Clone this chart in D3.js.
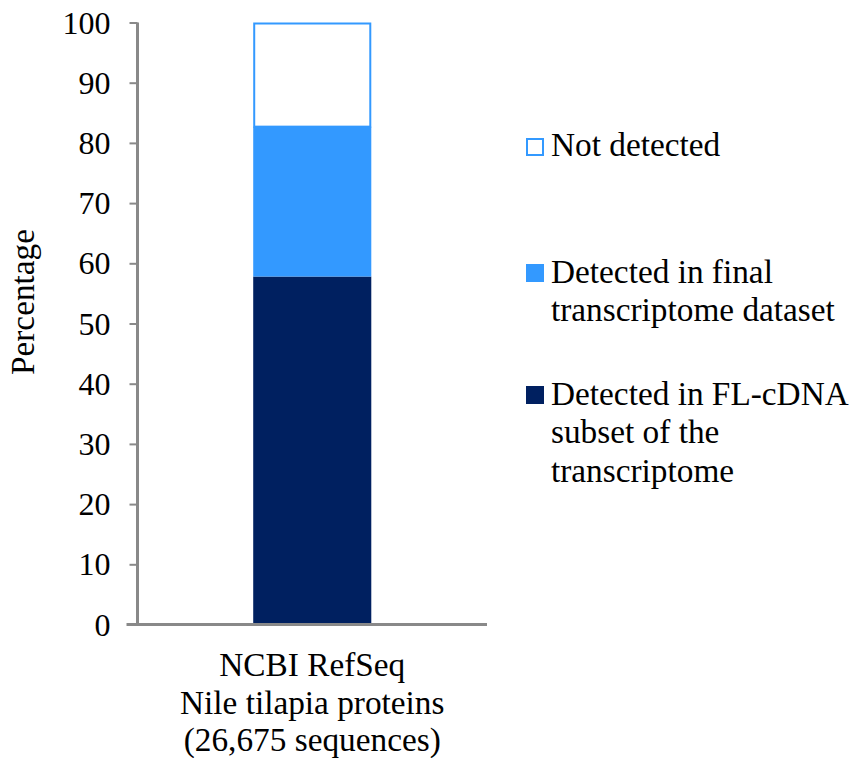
<!DOCTYPE html>
<html>
<head>
<meta charset="utf-8">
<script src="https://cdn.jsdelivr.net/npm/d3@7"></script>
<style>
  html, body { margin: 0; padding: 0; background: #fff; }
  svg text { font-family: "Liberation Serif", Tinos, "Times New Roman", Times, "DejaVu Serif", serif !important; fill: #000; }
</style>
</head>
<body>
<svg id="chart" width="850" height="758"></svg>
<script>
// Coverage of NCBI RefSeq Nile tilapia proteins
const categories = ["NCBI RefSeq|Nile tilapia proteins|(26,675 sequences)"];
const seriesNames = ["fl", "final", "none"];
const seriesLabels = [
  ["Detected in FL-cDNA", "subset of the", "transcriptome"],
  ["Detected in final", "transcriptome dataset"],
  ["Not detected"]
];
const flValues = [57.8];
const finalValues = [24.9];
const noneValues = [17.3];
const yTicks = [0, 10, 20, 30, 40, 50, 60, 70, 80, 90, 100];
const fills = { fl: "#002060", final: "#3399FF", none: "#FFFFFF" };
const serif = "'Liberation Serif', Tinos, 'Times New Roman', Times, 'DejaVu Serif', serif";

const rows = categories.map((c, i) => ({
  cat: c, fl: flValues[i], final: finalValues[i], none: noneValues[i]
}));

const svg = d3.select("#chart");
const m = { left: 137.5, right: 487, top: 22.5, bottom: 624.5 };
const tickFont = 32;
const fontSize = 33.3;

const x = d3.scaleBand().domain(categories).range([m.left, m.right])
  .paddingInner(0.5).paddingOuter(0.49);
const y = d3.scaleLinear().domain([0, 100]).range([m.bottom, m.top]);

const stack = d3.stack().keys(seriesNames)(rows);

// bars
const g = svg.append("g");
stack.forEach(layer => {
  const outlined = layer.key === "none";
  g.selectAll(null).data(layer).enter().append("rect")
    .attr("x", d => x(d.data.cat) + (outlined ? 1 : 0))
    .attr("width", x.bandwidth() - (outlined ? 2 : 0))
    .attr("y", d => y(d[1]) + (outlined ? 1 : 0))
    .attr("height", d => y(d[0]) - y(d[1]) - (outlined ? 1 : 0))
    .attr("fill", fills[layer.key])
    .attr("stroke", outlined ? "#3399FF" : "none")
    .attr("stroke-width", 2);
});

// y axis
const yAxis = d3.axisLeft(y).tickValues(yTicks).tickSize(8).tickPadding(19);
const ya = svg.append("g").attr("transform", `translate(${m.left},0)`).call(yAxis)
  .attr("font-family", serif);
ya.select(".domain").attr("stroke", "#898989").attr("stroke-width", 3)
  .attr("d", `M0,${m.top}V${m.bottom}`);
ya.selectAll(".tick line").attr("stroke", "#898989").attr("stroke-width", 2);
ya.selectAll(".tick text").attr("font-size", tickFont)
  .style("font-family", serif).attr("fill", "#000").attr("dy", "0.33em");

// x axis baseline
const xAxis = d3.axisBottom(x).tickSize(0).tickFormat("");
const xa = svg.append("g").attr("transform", `translate(0,${m.bottom})`).call(xAxis);
xa.select(".domain").attr("stroke", "#898989").attr("stroke-width", 3)
  .attr("d", `M${m.left - 11},0H${m.right}`);

// category label
categories.forEach(c => {
  const t = svg.append("text").attr("text-anchor", "middle")
    .attr("font-size", fontSize).style("font-family", serif);
  c.split("|").forEach((line, i) => {
    t.append("tspan").attr("x", x(c) + x.bandwidth() / 2).attr("y", 676 + i * 37.5).text(line);
  });
});

// y axis title
svg.append("text")
  .attr("transform", "translate(34,302) rotate(-90)")
  .attr("text-anchor", "middle").attr("font-size", fontSize)
  .style("font-family", serif)
  .text("Percentage");

// legend, top to bottom
const legendItems = [
  { key: "none", lines: seriesLabels[2], y0: 156 },
  { key: "final", lines: seriesLabels[1], y0: 283 },
  { key: "fl", lines: seriesLabels[0], y0: 405 }
];
legendItems.forEach(it => {
  const isNone = it.key === "none";
  svg.append("rect")
    .attr("x", isNone ? 527 : 526).attr("y", it.y0 - (isNone ? 17 : 19))
    .attr("width", isNone ? 16 : 18).attr("height", isNone ? 16 : 18)
    .attr("fill", fills[it.key])
    .attr("stroke", isNone ? "#3399FF" : "none").attr("stroke-width", 2);
  const t = svg.append("text").attr("font-size", fontSize).style("font-family", serif);
  it.lines.forEach((line, i) => {
    t.append("tspan").attr("x", 551).attr("y", it.y0 + i * 38.3).text(line);
  });
});
</script>
</body>
</html>
